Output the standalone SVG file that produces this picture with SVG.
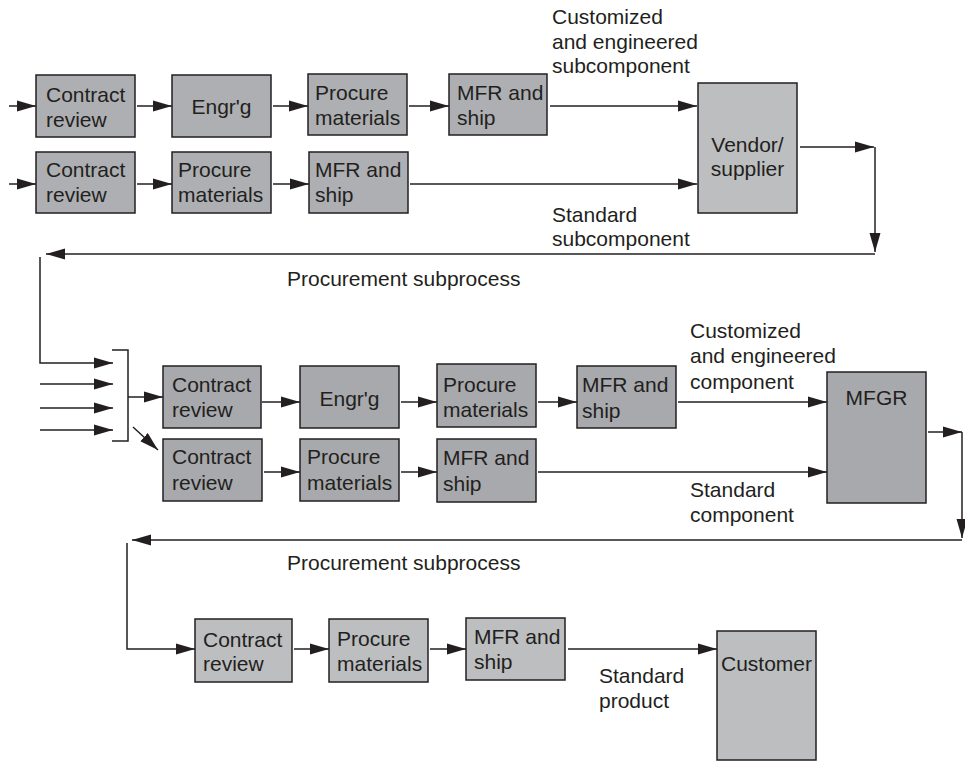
<svg xmlns="http://www.w3.org/2000/svg" width="965" height="761" viewBox="0 0 965 761">
  <defs>
    <marker id="ah" markerWidth="20" markerHeight="12" refX="19" refY="6" orient="auto" markerUnits="userSpaceOnUse">
      <path d="M0,0.5 L19,6 L0,11.5 z" fill="#231f20"/>
    </marker>
    <style>
      .box { stroke: #231f20; stroke-width: 1.5; }
      .s1 { fill: #adafb2; }
      .s2 { fill: #a7a9ac; }
      .s3 { fill: #bcbec0; }
      text { font-family: "Liberation Sans", Arial, Helvetica, sans-serif; font-size: 21px; fill: #231f20; }
      .c { text-anchor: middle; }
      .ln { fill: none; stroke: #231f20; stroke-width: 1.5; }
      .ar { fill: none; stroke: #231f20; stroke-width: 1.5; marker-end: url(#ah); }
    </style>
  </defs>
  <rect width="965" height="761" fill="#ffffff"/>

  <!-- Connectors -->
  <g id="connectors">
    <!-- top section, row 1 -->
    <line class="ar" x1="9" y1="106" x2="36" y2="106"/>
    <line class="ar" x1="137" y1="106" x2="172" y2="106"/>
    <line class="ar" x1="273" y1="106" x2="308" y2="106"/>
    <line class="ar" x1="409" y1="106" x2="449" y2="106"/>
    <line class="ar" x1="550" y1="106" x2="697" y2="106"/>
    <!-- top section, row 2 -->
    <line class="ar" x1="9" y1="184" x2="36" y2="184"/>
    <line class="ar" x1="137" y1="184" x2="172" y2="184"/>
    <line class="ar" x1="273" y1="184" x2="309" y2="184"/>
    <line class="ar" x1="410" y1="184" x2="697" y2="184"/>
    <!-- vendor output and return path -->
    <line class="ar" x1="800" y1="147" x2="874" y2="147"/>
    <line class="ar" x1="875" y1="147" x2="875" y2="252"/>
    <line class="ar" x1="875" y1="254" x2="46" y2="254"/>
    <polyline class="ar" points="40,257 40,363 113,363"/>
    <line class="ar" x1="40" y1="384" x2="113" y2="384"/>
    <line class="ar" x1="40" y1="408" x2="113" y2="408"/>
    <line class="ar" x1="40" y1="430" x2="113" y2="430"/>
    <!-- bracket -->
    <polyline class="ln" points="112,350 128,350 128,441 112,441"/>
    <line class="ar" x1="128" y1="397" x2="163" y2="397"/>
    <line class="ar" x1="133" y1="427" x2="158" y2="450"/>
    <!-- middle section, row 1 -->
    <line class="ar" x1="262" y1="402" x2="300" y2="402"/>
    <line class="ar" x1="401" y1="402" x2="437" y2="402"/>
    <line class="ar" x1="538" y1="402" x2="577" y2="402"/>
    <line class="ar" x1="678" y1="402" x2="827" y2="402"/>
    <!-- middle section, row 2 -->
    <line class="ar" x1="264" y1="472" x2="300" y2="472"/>
    <line class="ar" x1="401" y1="472" x2="437" y2="472"/>
    <line class="ar" x1="538" y1="472" x2="827" y2="472"/>
    <!-- MFGR output and return path -->
    <line class="ar" x1="928" y1="432" x2="962" y2="432"/>
    <line class="ar" x1="962" y1="432" x2="962" y2="538"/>
    <line class="ar" x1="962" y1="540" x2="132" y2="540"/>
    <polyline class="ar" points="127,543 127,649 195,649"/>
    <!-- bottom row -->
    <line class="ar" x1="294" y1="649" x2="329" y2="649"/>
    <line class="ar" x1="430" y1="649" x2="466" y2="649"/>
    <line class="ar" x1="568" y1="649" x2="717" y2="649"/>
  </g>

  <!-- Top section nodes -->
  <g id="t-contract-1">
    <rect class="box s1" x="36" y="75" width="99" height="62"/>
    <text x="46" y="102">Contract<tspan x="46" y="127">review</tspan></text>
  </g>
  <g id="t-engrg">
    <rect class="box s1" x="172" y="75" width="99" height="62"/>
    <text class="c" x="221.5" y="114">Engr'g</text>
  </g>
  <g id="t-procure-1">
    <rect class="box s1" x="308" y="74" width="99" height="61"/>
    <text x="315" y="100">Procure<tspan x="315" y="125">materials</tspan></text>
  </g>
  <g id="t-mfr-1">
    <rect class="box s1" x="449" y="74" width="98" height="61"/>
    <text x="457" y="100">MFR and<tspan x="457" y="125">ship</tspan></text>
  </g>
  <g id="t-contract-2">
    <rect class="box s1" x="36" y="152" width="99" height="61"/>
    <text x="46" y="177">Contract<tspan x="46" y="202">review</tspan></text>
  </g>
  <g id="t-procure-2">
    <rect class="box s1" x="172" y="152" width="99" height="61"/>
    <text x="178" y="177">Procure<tspan x="178" y="202">materials</tspan></text>
  </g>
  <g id="t-mfr-2">
    <rect class="box s1" x="309" y="152" width="99" height="61"/>
    <text x="315" y="177">MFR and<tspan x="315" y="202">ship</tspan></text>
  </g>
  <g id="vendor">
    <rect class="box s3" x="698" y="83" width="99" height="130"/>
    <text class="c" x="747.5" y="152">Vendor/<tspan x="747.5" y="176">supplier</tspan></text>
  </g>

  <!-- Top section labels -->
  <g id="t-labels">
    <text x="552" y="24">Customized<tspan x="552" y="49">and engineered</tspan><tspan x="552" y="73">subcomponent</tspan></text>
    <text x="552" y="222">Standard<tspan x="552" y="246">subcomponent</tspan></text>
    <text x="287" y="286">Procurement subprocess</text>
  </g>

  <!-- Middle section nodes -->
  <g id="m-contract-1">
    <rect class="box s2" x="163" y="366" width="98" height="62"/>
    <text x="172" y="392">Contract<tspan x="172" y="417">review</tspan></text>
  </g>
  <g id="m-engrg">
    <rect class="box s2" x="300" y="366" width="99" height="62"/>
    <text class="c" x="349.5" y="406">Engr'g</text>
  </g>
  <g id="m-procure-1">
    <rect class="box s2" x="437" y="364" width="99" height="63"/>
    <text x="443" y="392">Procure<tspan x="443" y="417">materials</tspan></text>
  </g>
  <g id="m-mfr-1">
    <rect class="box s2" x="577" y="366" width="99" height="62"/>
    <text x="582" y="392">MFR and<tspan x="582" y="418">ship</tspan></text>
  </g>
  <g id="m-contract-2">
    <rect class="box s2" x="163" y="439" width="99" height="62"/>
    <text x="172" y="464">Contract<tspan x="172" y="490">review</tspan></text>
  </g>
  <g id="m-procure-2">
    <rect class="box s2" x="300" y="439" width="99" height="62"/>
    <text x="307" y="464">Procure<tspan x="307" y="490">materials</tspan></text>
  </g>
  <g id="m-mfr-2">
    <rect class="box s2" x="437" y="439" width="99" height="63"/>
    <text x="443" y="465">MFR and<tspan x="443" y="491">ship</tspan></text>
  </g>
  <g id="mfgr">
    <rect class="box s2" x="827" y="372" width="99" height="131"/>
    <text class="c" x="876.5" y="405">MFGR</text>
  </g>

  <!-- Middle section labels -->
  <g id="m-labels">
    <text x="690" y="338">Customized<tspan x="690" y="363">and engineered</tspan><tspan x="690" y="389">component</tspan></text>
    <text x="690" y="497">Standard<tspan x="690" y="522">component</tspan></text>
    <text x="287" y="570">Procurement subprocess</text>
  </g>

  <!-- Bottom section nodes -->
  <g id="b-contract">
    <rect class="box s3" x="195" y="619" width="97" height="63"/>
    <text x="203" y="647">Contract<tspan x="203" y="671">review</tspan></text>
  </g>
  <g id="b-procure">
    <rect class="box s3" x="329" y="619" width="99" height="63"/>
    <text x="337" y="646">Procure<tspan x="337" y="671">materials</tspan></text>
  </g>
  <g id="b-mfr">
    <rect class="box s3" x="466" y="618" width="99" height="62"/>
    <text x="474" y="644">MFR and<tspan x="474" y="669">ship</tspan></text>
  </g>
  <g id="customer">
    <rect class="box s3" x="717" y="631" width="99" height="129"/>
    <text class="c" x="766.5" y="671">Customer</text>
  </g>

  <!-- Bottom section labels -->
  <g id="b-labels">
    <text x="599" y="683">Standard<tspan x="599" y="708">product</tspan></text>
  </g>
</svg>
